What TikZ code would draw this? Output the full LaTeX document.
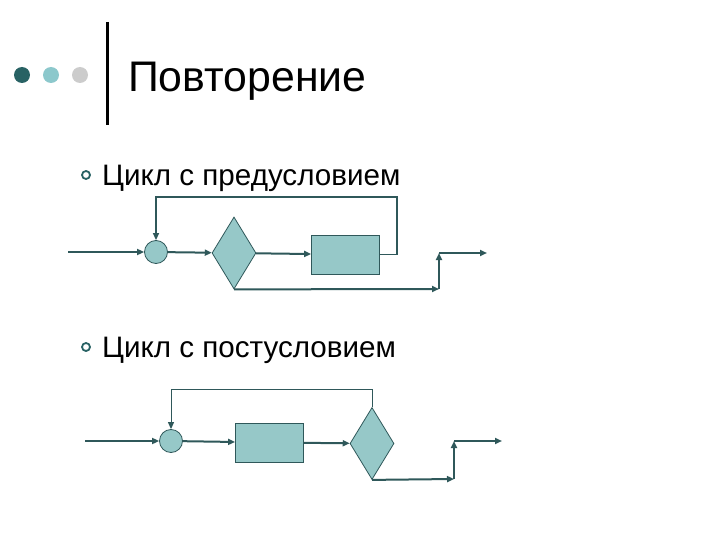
\documentclass[tikz,border=0pt]{standalone}
\usepackage{fontspec}
\setmainfont{Liberation Sans}
\usetikzlibrary{positioning,arrows.meta,shapes.geometric}
\definecolor{tealdark}{RGB}{40,98,100}
\definecolor{teallight}{RGB}{140,200,204}
\definecolor{dotgray}{RGB}{204,204,204}
\definecolor{flowline}{RGB}{47,88,90}
\definecolor{flowfill}{RGB}{150,200,200}
\tikzset{
  flow/.style={draw=flowline,line width=2pt,-{Triangle[length=7pt,width=6pt]}},
  loopline/.style={draw=flowline,line width=1.5pt,-{Triangle[length=7pt,width=6pt]}},
  joint/.style={circle,draw=flowline,fill=flowfill,line width=0.8pt,minimum size=23pt,inner sep=0pt},
  cond/.style={diamond,draw=flowline,fill=flowfill,line width=0.8pt,minimum width=44pt,minimum height=72pt,inner sep=0pt,aspect=0.6},
  body/.style={rectangle,draw=flowline,fill=flowfill,line width=0.8pt,minimum width=68pt,minimum height=39pt,inner sep=0pt},
  ring/.style={circle,draw=tealdark,line width=1.8pt,minimum size=8pt,inner sep=0pt},
  item/.style={anchor=base west,font=\fontsize{29.6}{33}\selectfont,inner sep=0pt}
}
\begin{document}
\begin{tikzpicture}[x=1pt,y=-1pt]
\useasboundingbox[fill=white] (0,0) rectangle (720,540);
% header
\foreach \c/\x in {tealdark/22,teallight/51,dotgray/80}
  \fill[\c] (\x,75) circle (8pt);
\draw[line width=3pt] (107,22) -- (107,125);
\node[anchor=base west,inner sep=0pt,font=\fontsize{42.8}{50}\selectfont] (title) at (128,92) {Повторение};
% bullets
\node[ring] (r1) at (86,175) {};
\node[item] (t1) at (102,186) {Цикл с предусловием};
\node[ring] (r2) at (86,347) {};
\node[item] (t2) at (102,357) {Цикл с постусловием};
% loop with precondition
\coordinate (in1) at (68,252);
\node[joint] (j1) at (156,252) {};
\node[cond] (c1) at (234,253) {};
\node[body] (b1) at (345.5,254.5) {};
\coordinate (k1) at (439,289);
\coordinate (k2) at (439,253);
\coordinate (out1) at (487,253);
\draw[flow] (in1) -- (j1);
\draw[flow] (j1) -- (c1);
\draw[flow] (c1) -- (b1);
\draw[loopline] (b1.east) -- (397,254.5) |- (156,197) -- (j1.north);
\draw[flow] (c1.south) -- (k1);
\draw[flow] (k1) -- (k2);
\draw[flow] (k2) -- (out1);
% loop with postcondition
\coordinate (in2) at (85,441);
\node[joint] (j2) at (171,441) {};
\node[body] (b2) at (269.5,442.5) {};
\node[cond] (c2) at (372,443.5) {};
\coordinate (k3) at (454,479);
\coordinate (k4) at (454,441);
\coordinate (out2) at (502,441);
\draw[flow] (in2) -- (j2);
\draw[flow] (j2) -- (b2);
\draw[flow] (b2) -- (c2);
\draw[loopline,line width=1pt] (c2.north) -- (372,389) -| (j2.north);
\draw[flow] (c2.south) -- (k3);
\draw[flow] (k3) -- (k4);
\draw[flow] (k4) -- (out2);
\end{tikzpicture}
\end{document}
